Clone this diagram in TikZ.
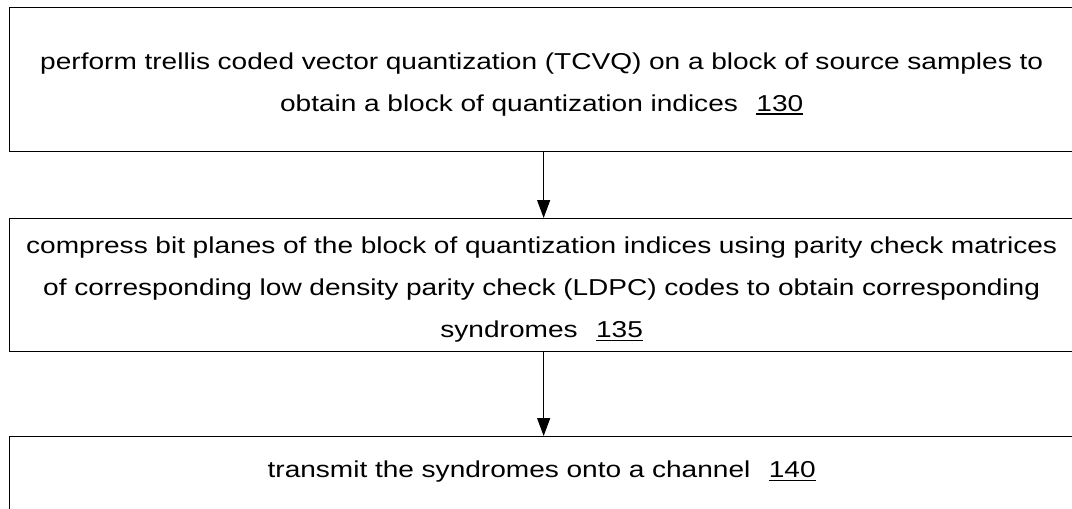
\documentclass[tikz,border=0pt]{standalone}
\usepackage{fontspec}
\setmainfont[FakeStretch=1.22]{Liberation Sans}
\usetikzlibrary{arrows.meta}
\newcommand{\stepnum}[1]{\setbox0\hbox{#1}\rlap{\rule[-3.5pt]{\wd0}{1.6pt}}\box0}
\begin{document}
\begin{tikzpicture}[x=1pt,y=-1pt,
		stepbox/.style={draw,line width=1.3pt,anchor=north west,minimum width=1064pt,text width=1056pt,align=center,font=\fontsize{23}{42}\selectfont},
		flow/.style={-{Triangle[length=18pt,width=13pt]},line width=1.3pt}]
	\useasboundingbox (0,0) rectangle (1072,509);
	\clip (0,0) rectangle (1072,509);
	\node[stepbox,minimum height=144pt,text height=26pt] (tcvq) at (9,7) {
		perform trellis coded vector quantization (TCVQ) on a block of source samples to\\
		obtain a block of quantization indices\hspace{0.8em}\stepnum{130}
	};
	\node[stepbox,minimum height=133pt,text height=26pt] (ldpc) at (9,218) {
		compress bit planes of the block of quantization indices using parity check matrices\\
		of corresponding low density parity check (LDPC) codes to obtain corresponding\\
		syndromes\hspace{0.8em}\stepnum{135}
	};
	\node[stepbox,text height=17pt,text depth=40pt,inner ysep=24pt] (send) at (9,436) {
		transmit the syndromes onto a channel\hspace{0.8em}\stepnum{140}
	};
	\draw[flow] ([xshift=2pt]tcvq.south) -- ([xshift=2pt]ldpc.north);
	\draw[flow] ([xshift=2pt]ldpc.south) -- ([xshift=2pt]send.north);
\end{tikzpicture}
\end{document}
